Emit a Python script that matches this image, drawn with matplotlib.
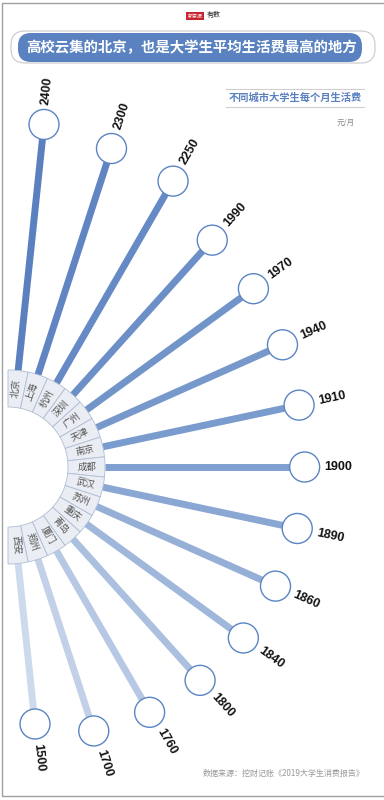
import numpy as np
import matplotlib
matplotlib.use("Agg")
import matplotlib.pyplot as plt
from matplotlib.patches import Wedge, Circle, FancyBboxPatch, Rectangle
from matplotlib.colors import LinearSegmentedColormap

plt.rcParams['font.family'] = ['Noto Sans CJK SC', 'DejaVu Sans']

# data
cities = ['北京', '上海', '杭州', '深圳', '广州', '天津', '南京', '成都',
          '武汉', '苏州', '重庆', '青岛', '厦门', '郑州', '西安']
spend = [2400, 2300, 2250, 1990, 1970, 1940, 1910, 1900,
         1890, 1860, 1840, 1800, 1760, 1700, 1500]
title = '高校云集的北京，也是大学生平均生活费最高的地方'
subtitle = '不同城市大学生每个月生活费'
unit = '元/月'
source = '数据来源：挖财记账《2019大学生消费报告》'

W, H = 384, 800
fig = plt.figure(figsize=(W / 100, H / 100), dpi=100)
ax = fig.add_axes([0, 0, 1, 1])
ax.set_xlim(0, W)
ax.set_ylim(0, H)
ax.set_aspect('equal')
ax.axis('off')

# page frame
ax.add_patch(Rectangle((2, 4), W, H - 7, fill=False, ec='#a0a0a0', lw=1.0))

# logo
ax.add_patch(Rectangle((186, 780), 18, 8, fc='#c7262e', ec='none'))
ax.text(195, 784, '新京报', color='white', fontsize=3.6, ha='center', va='center')
ax.text(214, 784.5, '有数', color='#222222', fontsize=5, ha='center', va='center',
        style='italic')

# title
ax.add_patch(FancyBboxPatch((11, 737), 364, 32, boxstyle='round,pad=0,rounding_size=14',
                            fc='none', ec='#c9c9c9', lw=0.8))
ax.add_patch(FancyBboxPatch((18, 738), 344, 29, boxstyle='round,pad=0,rounding_size=13',
                            fc='#5a82c0', ec='none'))
ax.text(191, 752.5, title, color='white', fontsize=10.4, fontweight='bold',
        ha='center', va='center')

# subtitle
ax.plot([226, 364], [711, 711], color='#cfcfcf', lw=0.8)
ax.plot([226, 364], [693, 693], color='#cfcfcf', lw=0.8)
ax.text(295, 702, subtitle, color='#5a80c0', fontsize=7.4, fontweight='bold',
        ha='center', va='center')
ax.text(355, 677, unit, color='#888888', fontsize=5.5, ha='right', va='center')

# source
ax.text(365, 27, source, color='#999999', fontsize=5.8, ha='right', va='center')

# radial chart
cx, cy = 8, 333
r_in, r_out = 60, 97
step = 180 / len(cities)
angles = 90 - step / 2 - step * np.arange(len(cities))
lengths = 115 + 0.0956 * np.array(spend)
circ_r = 15

cmap = LinearSegmentedColormap.from_list(
    'blues', ['#5a80c0', '#6f92c8', '#7f9fd0', '#a5bbdd', '#cddaec'])
colors = cmap(np.linspace(0, 1, len(cities)))

for i, (city, val, ang, L) in enumerate(zip(cities, spend, angles, lengths)):
    t = np.deg2rad(ang)
    ux, uy = np.cos(t), np.sin(t)
    # ring segment
    ax.add_patch(Wedge((cx, cy), r_out, ang - step / 2, ang + step / 2, width=r_out - r_in,
                       fc='#eaeef4', ec='#aebdd2', lw=0.6, zorder=2))
    ax.text(cx + 79 * ux, cy + 79 * uy, city, rotation=ang, rotation_mode='anchor',
            ha='center', va='center', fontsize=6.8, color='#555555', zorder=3)
    # bar
    ax.plot([cx + r_out * ux, cx + (L - circ_r) * ux],
            [cy + r_out * uy, cy + (L - circ_r) * uy],
            color=colors[i], lw=5.0, solid_capstyle='butt', zorder=1)
    # end circle
    ax.add_patch(Circle((cx + L * ux, cy + L * uy), circ_r, fc='white',
                        ec='#5b84c4', lw=1.0, zorder=3))
    # value label
    rl = L + circ_r + 5
    ax.text(cx + rl * ux, cy + rl * uy, str(val), rotation=ang, rotation_mode='anchor',
            ha='left', va='center', fontsize=9, fontweight='bold',
            family=['Liberation Sans', 'DejaVu Sans'], color='#111111', zorder=3)

fig.savefig('out.png', dpi=100)
